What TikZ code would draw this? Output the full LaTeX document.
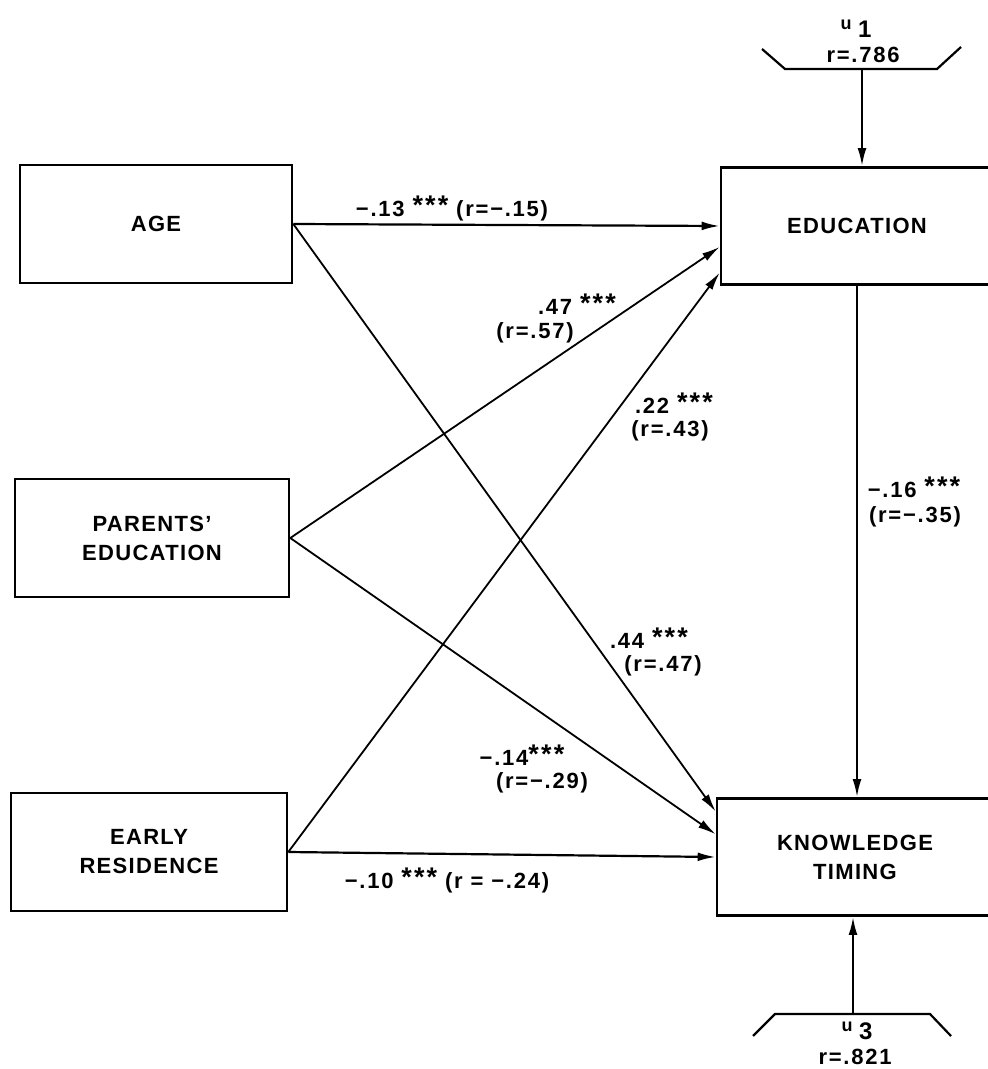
\documentclass[tikz,border=0pt]{standalone}
\usepackage{fontspec}
\setmainfont{Liberation Sans}
\newfontfamily\labfont[LetterSpace=8]{Liberation Sans Bold}
\newfontfamily\boxfont[LetterSpace=6]{Liberation Sans Bold}
\usetikzlibrary{arrows.meta,calc}
\newcommand\stars{\raisebox{1pt}{\fontsize{13.5}{13.5}\selectfont ***}}
\begin{document}
\begin{tikzpicture}[x=0.5pt,y=-0.5pt,
  box/.style={draw,line width=1.3pt,align=center,inner sep=2pt,
    font=\boxfont\fontsize{11}{14.5}\selectfont},
  lab/.style={font=\labfont\fontsize{11}{13}\selectfont,inner sep=0pt},
  arr/.style={-{Latex[length=9pt,width=4.4pt]},line width=0.9pt},
  harr/.style={arr,line width=1.1pt},
  wedge/.style={line width=1.1pt}
]
\useasboundingbox (0,0) rectangle (988,1069);
\clip (0,0) rectangle (988,1069);
\fill[white] (0,0) rectangle (988,1069);

% boxes
\node[box,minimum width=136pt,minimum height=59pt] (age) at (156,224) {AGE};
\node[box,minimum width=137pt,minimum height=59pt] (par) at (152,538) {PARENTS’\\EDUCATION};
\node[box,minimum width=138pt,minimum height=59pt] (early) at (149,852) {EARLY\\RESIDENCE};
\node[box,minimum width=136pt,minimum height=58.5pt] (edu) at (857,226) {EDUCATION};
\node[box,minimum width=138pt,minimum height=58.5pt] (kt) at (855,857) {KNOWLEDGE\\TIMING};

% connectors
\draw[harr] (age.east) -- (edu.west);
\draw[arr] (age.east) -- ($(kt.north west)!0.12!(kt.south west)$);
\draw[arr] (par.east) -- ($(edu.north west)!0.675!(edu.south west)$);
\draw[arr] (par.east) -- ($(kt.north west)!0.31!(kt.south west)$);
\draw[arr] (early.east) -- ($(edu.north west)!0.89!(edu.south west)$);
\draw[harr] (early.east) -- (kt.west);
\draw[harr] (edu.south) -- (edu.south |- kt.north);

% disturbance u1
\coordinate (u1) at (862,69);
\draw[wedge] (762,49) -- (785,69) -- (937,69) -- (961,47);
\draw[harr] (u1) -- (u1 |- edu.north);
\node[lab,font=\labfont\fontsize{9}{11}\selectfont] (u1n) at (856,29) {u \raisebox{-4pt}{\fontsize{12}{12}\selectfont 1}};
\node[lab] (r1) at (863,55) {r=.786};

% disturbance u3
\coordinate (u3) at (853,1014);
\draw[wedge] (753,1036) -- (775,1014) -- (930,1014) -- (951,1036);
\draw[harr] (u3) -- (u3 |- kt.south);
\node[lab,font=\labfont\fontsize{9}{11}\selectfont] (u3n) at (857,1031) {u \raisebox{-4pt}{\fontsize{12}{12}\selectfont 3}};
\node[lab] (r3) at (855,1057) {r=.821};

% coefficient labels
\node[lab] (l1) at (452,208) {−.13 \stars{} (r=−.15)};
\node[lab] (l2a) at (577,304) {.47 \stars};
\node[lab] (l2b) at (535,333) {(r=.57)};
\node[lab] (l3a) at (674,403) {.22 \stars};
\node[lab] (l3b) at (670,431) {(r=.43)};
\node[lab] (l4a) at (914,487) {−.16 \stars};
\node[lab] (l4b) at (915,517) {(r=−.35)};
\node[lab] (l5a) at (649,638) {.44 \stars};
\node[lab] (l5b) at (663,666) {(r=.47)};
\node[lab] (l6a) at (522,755) {−.14\stars};
\node[lab] (l6b) at (542,783) {(r=−.29)};
\node[lab] (l7) at (447,880) {−.10 \stars{} (r = −.24)};
\end{tikzpicture}
\end{document}
